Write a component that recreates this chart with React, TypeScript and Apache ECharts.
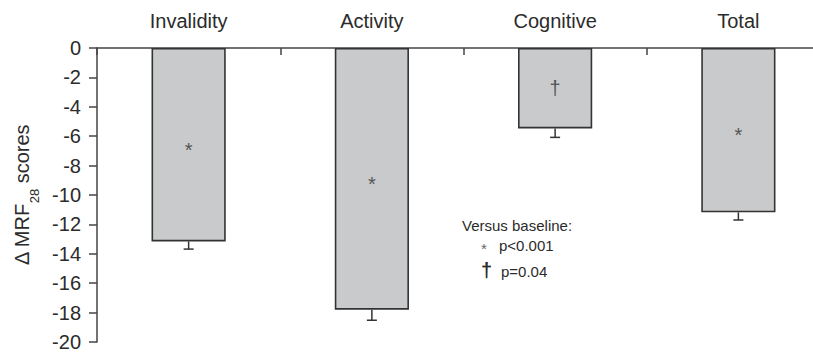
import React, { useEffect, useRef } from "react";
import * as echarts from "echarts";

const categories = ["Invalidity", "Activity", "Cognitive", "Total"];
const meanChange = [-13.16, -17.8, -5.47, -11.18];
const errorLow = [-13.68, -18.52, -6.08, -11.7];
const markers = ["*", "*", "†", "*"];
const legendTitle = "Versus baseline:";
const legendItems = [
  { mark: "*", text: "p<0.001" },
  { mark: "†", text: "p=0.04" },
];

const FONT = "'Liberation Sans', Arial, sans-serif";
const INK = "#2b2b2b";

export default function App() {
  const ref = useRef<HTMLDivElement>(null);
  useEffect(() => {
    if (!ref.current) return;
    const chart = echarts.init(ref.current, undefined, { renderer: "svg" });
    chart.setOption({
      animation: false,
      backgroundColor: "#ffffff",
      textStyle: { fontFamily: FONT },
      grid: { left: 97, top: 48, bottom: 12, right: 0, containLabel: false },
      xAxis: {
        type: "category",
        position: "top",
        data: categories,
        boundaryGap: true,
        axisLine: { show: true, onZero: false, lineStyle: { color: "#444", width: 1.5 } },
        axisTick: { show: true, inside: true, length: 7, lineStyle: { color: "#444", width: 1.5 } },
        axisLabel: { fontSize: 20, color: INK, margin: 17, fontFamily: FONT },
        splitLine: { show: false },
      },
      yAxis: {
        type: "value",
        min: -20,
        max: 0,
        interval: 2,
        name: "{d|Δ MRF}{s|28}{d| scores}",
        nameLocation: "middle",
        nameGap: 61,
        nameRotate: 90,
        nameTextStyle: {
          rich: {
            d: { fontSize: 20, color: INK, fontFamily: FONT },
            s: { fontSize: 13, color: INK, fontFamily: FONT, verticalAlign: "bottom", padding: [0, 0, -9, 0] },
          },
        },
        axisLine: { show: true, lineStyle: { color: "#444", width: 1.5 } },
        axisTick: { show: true, inside: false, length: 8, lineStyle: { color: "#444", width: 1.5 } },
        axisLabel: { fontSize: 20, color: INK, margin: 16, fontFamily: FONT },
        splitLine: { show: false },
      },
      series: [
        {
          type: "bar",
          data: meanChange.map((v, i) => ({
            value: v,
            label: { offset: markers[i] === "*" ? [0, 5] : [0, 0] },
          })),
          barWidth: "40.5%",
          itemStyle: { color: "#c9cacc", borderColor: "#333", borderWidth: 1.6 },
          label: {
            show: true,
            position: "inside",
            formatter: (p: any) => markers[p.dataIndex],
            fontSize: 20,
            color: "#555",
            fontFamily: FONT,
          },
        },
        {
          type: "custom",
          data: categories.map((_, i) => [i, meanChange[i], errorLow[i]]),
          renderItem: (params: any, api: any) => {
            const top = api.coord([api.value(0), api.value(1)]);
            const bot = api.coord([api.value(0), api.value(2)]);
            const half = 5;
            const style = { stroke: "#333", lineWidth: 1.5 };
            return {
              type: "group",
              children: [
                { type: "line", shape: { x1: top[0], y1: top[1], x2: bot[0], y2: bot[1] }, style },
                { type: "line", shape: { x1: bot[0] - half, y1: bot[1], x2: bot[0] + half, y2: bot[1] }, style },
              ],
            };
          },
          z: 3,
        },
      ],
      graphic: [
        {
          type: "text",
          left: 462,
          top: 218,
          style: { text: legendTitle, fill: INK, font: `15px ${FONT}` },
        },
        ...legendItems.map((it, i) => ({
          type: "group",
          left: 481,
          top: 238 + i * 22,
          children: [
            {
              type: "text",
              x: it.mark === "*" ? 2 : 0,
              y: it.mark === "*" ? 3 : -1,
              style: {
                text: it.mark,
                fill: it.mark === "*" ? "#666" : INK,
                font: it.mark === "*" ? `15px ${FONT}` : `bold 20px ${FONT}`,
              },
            },
            {
              type: "text",
              x: 20,
              y: it.mark === "*" ? 0 : 3,
              style: { text: it.text, fill: INK, font: `15px ${FONT}` },
            },
          ],
        })),
      ],
    });
    return () => chart.dispose();
  }, []);
  return (
    <div style={{ position: "fixed", left: 0, top: 0, width: 813, height: 354, overflow: "hidden" }}>
      <div ref={ref} style={{ width: 830, height: 354 }} />
    </div>
  );
}
